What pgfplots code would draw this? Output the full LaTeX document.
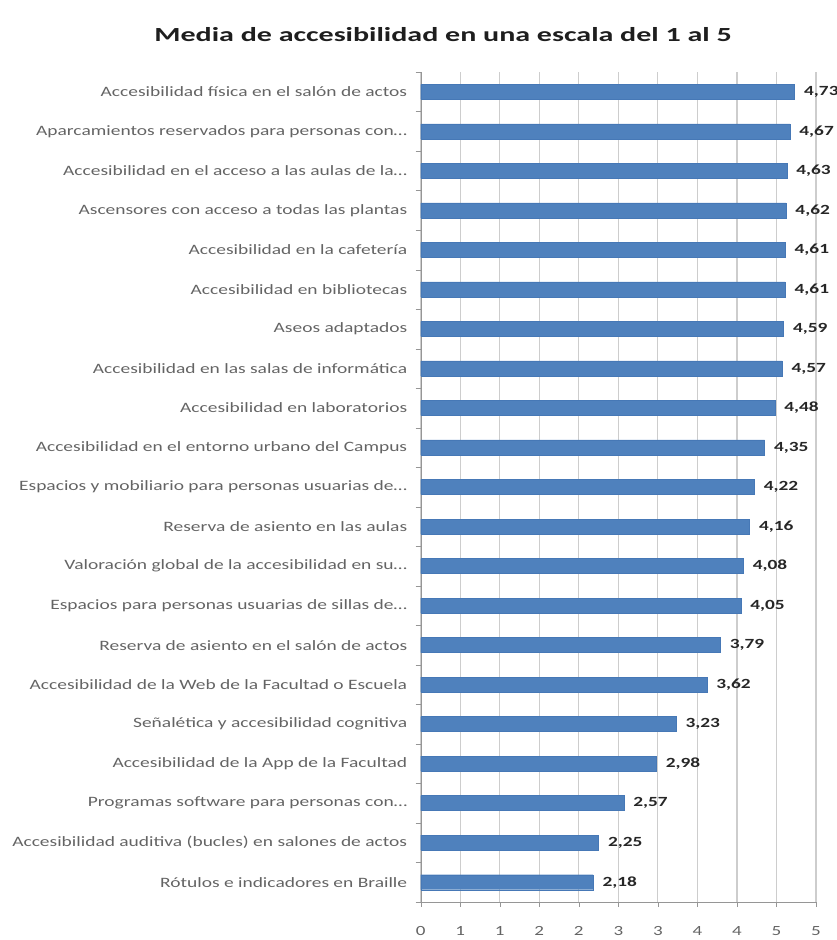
\documentclass[border=0pt]{standalone}
\usepackage{pgfplots}
\pgfplotsset{compat=1.18}
\usepackage{fontspec}
\setmainfont{Carlito}
\newfontfamily\labfont[FakeStretch=1.36]{Carlito}
\newfontfamily\valfont[FakeStretch=1.38]{Carlito}
\newfontfamily\titfont[FakeStretch=1.5]{Carlito}
\definecolor{barblue}{RGB}{79,129,189}
\definecolor{baredge}{RGB}{70,120,182}
\definecolor{labgray}{RGB}{100,100,100}
\definecolor{gridgray}{RGB}{205,205,205}
\definecolor{axgray}{RGB}{150,150,150}
\definecolor{valtext}{RGB}{38,38,38}
\begin{document}
\begin{tikzpicture}
\path[use as bounding box] (0,0) rectangle (837bp,940bp);
\begin{axis}[
  at={(420.7bp,38bp)}, anchor=south west,
  scale only axis,
  width=395.3bp, height=830bp,
  xbar, bar width=15bp,
  xmin=0, xmax=5,
  ymin=-0.5, ymax=20.5,
  xtick={0,0.5,...,5},
  xticklabels={0,1,1,2,2,3,3,4,4,5,5},
  ytick={0,...,20},
  yticklabels={
    {Rótulos e indicadores en Braille},
    {Accesibilidad auditiva (bucles) en salones de actos},
    {Programas software para personas con…},
    {Accesibilidad de la App de la Facultad},
    {Señalética y accesibilidad cognitiva},
    {Accesibilidad de la Web de la Facultad o Escuela},
    {Reserva de asiento en el salón de actos},
    {Espacios para personas usuarias de sillas de…},
    {Valoración global de la accesibilidad en su…},
    {Reserva de asiento en las aulas},
    {Espacios y mobiliario para personas usuarias de…},
    {Accesibilidad en el entorno urbano del Campus},
    {Accesibilidad en laboratorios},
    {Accesibilidad en las salas de informática},
    {Aseos adaptados},
    {Accesibilidad en bibliotecas},
    {Accesibilidad en la cafetería},
    {Ascensores con acceso a todas las plantas},
    {Accesibilidad en el acceso a las aulas de la…},
    {Aparcamientos reservados para personas con…},
    {Accesibilidad física en el salón de actos}},
  minor ytick={-0.5,0.5,...,20.5},
  ytick style={draw=none},
  minor y tick style={draw=axgray},
  minor tick length=5bp,
  major tick length=5bp,
  xtick style={draw=axgray},
  tick align=outside,
  xmajorgrids, major x grid style={draw=gridgray, line width=1.2bp},
  axis lines*=left,
  axis line style={draw=axgray},
  yticklabel style={font=\labfont\fontsize{14.3bp}{16bp}\selectfont, text=labgray, xshift=-5bp},
  xticklabel style={font=\labfont\fontsize{14bp}{16bp}\selectfont, text=labgray, yshift=-16bp},
  /pgf/number format/assume math mode=true,
  clip=false,
  point meta=x,
  nodes near coords={\pgfmathprintnumber[fixed,fixed zerofill,precision=2,use comma]{\pgfplotspointmeta}},
  nodes near coords style={font=\valfont\bfseries\fontsize{14bp}{16bp}\selectfont, text=valtext, anchor=west, xshift=6bp},
]
\addplot[fill=barblue, draw=baredge] coordinates {
(2.18,0) (2.25,1) (2.57,2) (2.98,3) (3.23,4) (3.62,5) (3.79,6)
(4.05,7) (4.08,8) (4.16,9) (4.22,10) (4.35,11) (4.48,12) (4.57,13)
(4.59,14) (4.61,15) (4.61,16) (4.62,17) (4.63,18) (4.67,19) (4.73,20)};
\end{axis}
\node[font=\titfont\bfseries\fontsize{20bp}{22bp}\selectfont, text={rgb,255:red,30;green,30;blue,30}] at (443bp,905bp) {Media de accesibilidad en una escala del 1 al 5};
\end{tikzpicture}
\end{document}
